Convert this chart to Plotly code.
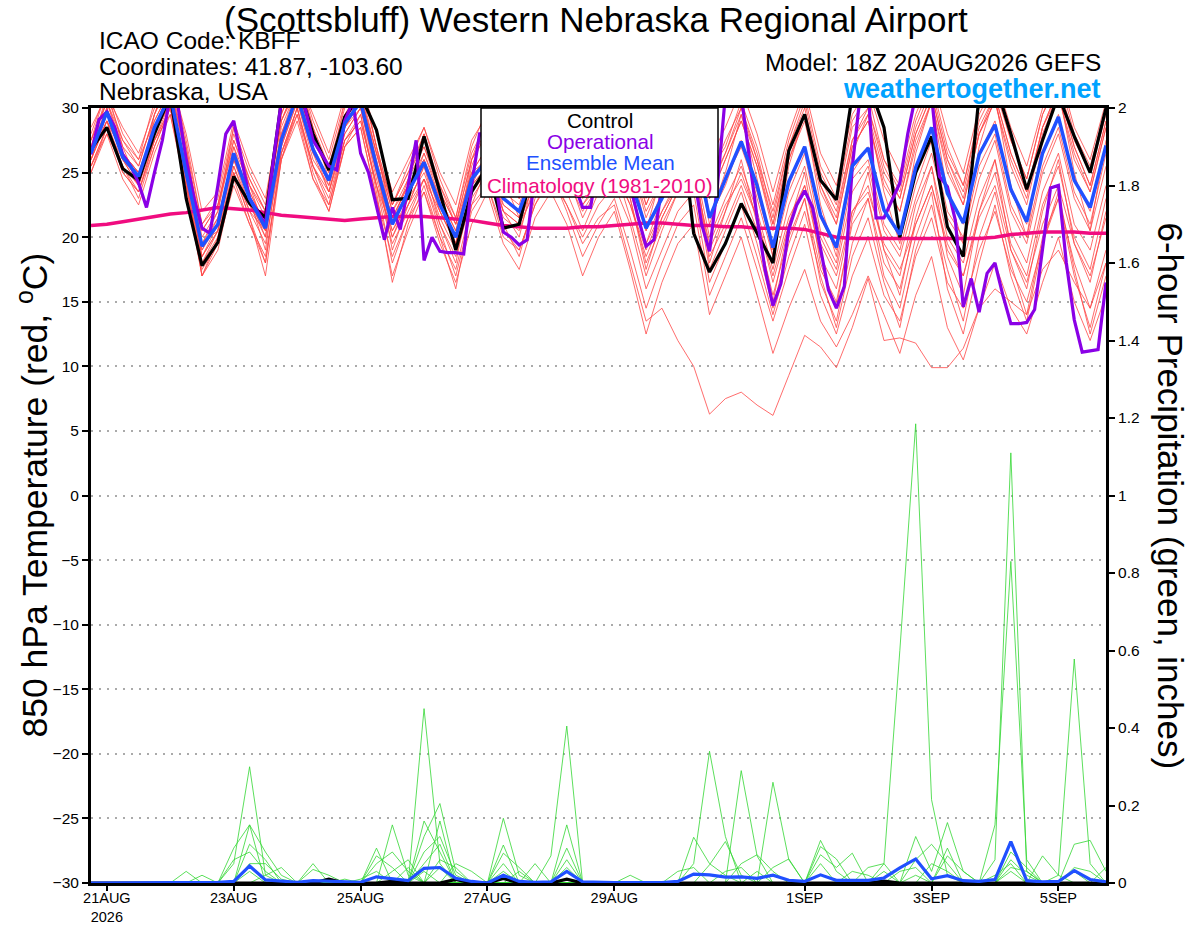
import plotly.graph_objects as go
import pandas as pd

# ---------------- DATA ----------------
start_time = "2026-08-20 18:00"
n_steps = 65          # 6-hourly GEFS steps
n_steps_op = 129      # 3-hourly operational steps

tick_dates = ["2026-08-21", "2026-08-23", "2026-08-25", "2026-08-27",
              "2026-08-29", "2026-09-01", "2026-09-03", "2026-09-05"]
tick_labels = ["21AUG<br>2026", "23AUG", "25AUG", "27AUG", "29AUG", "1SEP", "3SEP", "5SEP"]
temp_ticks = [-30, -25, -20, -15, -10, -5, 0, 5, 10, 15, 20, 25, 30]
precip_ticks = [0, 0.2, 0.4, 0.6, 0.8, 1.0, 1.2, 1.4, 1.6, 1.8, 2.0]
precip_tick_labels = ["0", "0.2", "0.4", "0.6", "0.8", "1", "1.2", "1.4", "1.6", "1.8", "2"]

# 850 hPa temperature (C)
control_t = [26.8,28.5,25.3,24.4,28.0,31.0,23.0,17.8,19.6,24.7, 22.6,21.5,30.5,32.0,28.0,25.2,29.3,31.0,28.3,22.9,
             23.0,27.8,23.5,19.0,23.5,25.5,20.7,21.0,26.0,29.0, 27.5,24.5,27.0,29.5,27.0,24.0,27.0,31.0,20.3,17.3,
             19.5,22.6,20.3,18.0,26.7,29.5,24.4,22.9,31.0,32.0, 28.5,20.0,25.0,27.8,20.8,18.5,31.0,32.0,28.0,23.7,
             27.5,31.0,27.8,25.0,30.0]
mean_t = [26.5,29.7,26.2,24.7,28.5,31.0,25.0,19.3,21.0,26.5, 23.0,20.7,27.5,31.0,26.8,24.4,28.8,30.5,25.5,21.0,
          23.5,25.8,22.5,20.0,24.5,26.0,23.0,22.0,25.5,27.5, 26.0,24.0,25.5,27.0,24.5,20.7,23.0,25.5,27.4,21.5,
          24.5,27.4,24.0,19.2,24.3,27.0,21.7,19.2,25.5,26.9, 22.1,20.2,25.4,28.5,23.4,21.1,26.4,28.7,23.7,21.2,
          26.5,29.3,24.4,22.3,27.1]
climo_t = [20.9,21.0,21.2,21.4,21.6,21.8,21.9,22.1,22.3,22.2, 22.1,21.9,21.7,21.6,21.5,21.4,21.3,21.4,21.5,21.6,
           21.6,21.6,21.5,21.4,21.3,21.1,20.9,20.8,20.7,20.7, 20.7,20.8,20.8,20.9,21.0,21.1,21.1,21.0,20.9,20.9,
           20.8,20.8,20.7,20.7,20.7,20.6,20.3,20.0,19.9,19.9, 19.9,19.9,19.9,19.9,19.9,19.9,19.9,20.0,20.2,20.3,
           20.4,20.4,20.4,20.3,20.3]
operational_t = [26.4,29.1,29.7,28.5,26.4,25.5,24.2,22.3,25.0,27.5, 31.0,30.0,26.0,23.0,20.7,20.3,24.0,28.0,29.0,26.0,
                 23.0,22.0,21.0,26.0,30.5,32.0,32.0,30.0,27.5,26.5, 25.5,25.2,29.0,30.5,26.5,25.0,22.5,19.8,22.3,20.6,
                 24.0,27.5,18.2,20.0,18.9,18.8,18.8,18.7,24.0,28.0, 28.0,24.0,20.4,20.0,19.4,19.8,25.0,29.0,30.0,28.0,
                 26.0,24.0,22.3,22.3,26.0,28.0,29.0,27.0,24.0,21.5, 19.3,19.8,24.0,28.0,31.0,29.0,25.0,21.0,18.9,24.0,
                 31.0,32.0,31.0,26.0,21.5,17.5,14.7,16.4,20.6,22.5, 23.6,22.3,19.0,15.9,14.5,16.2,25.4,31.0,31.5,21.5,
                 21.5,22.8,24.2,28.0,31.0,32.0,31.0,24.7,23.9,21.3, 14.6,16.8,14.2,17.2,18.0,15.5,13.3,13.3,13.4,14.4,
                 19.0,23.8,24.0,18.0,13.6,11.1,11.2,11.3,16.5]

t_m01 = [27.5,30.5,27.0,25.5,29.5,32.0,26.5,20.0,22.0,27.5, 24.0,21.5,29.0,32.0,28.0,25.0,29.5,31.5,26.5,22.0,
         24.5,27.0,23.5,21.0,26.0,28.0,24.5,23.0,27.0,29.5, 27.5,25.0,27.0,29.0,26.0,22.0,24.5,27.5,29.0,23.0,
         26.0,29.0,25.5,21.0,26.0,29.0,23.5,21.0,27.0,29.0, 24.0,22.0,27.0,30.5,25.0,22.5,28.0,30.5,25.5,22.5,
         28.0,31.0,26.0,23.5,28.5]
t_m02 = [25.5,28.5,25.0,23.5,27.0,30.0,24.0,18.0,20.0,25.5, 22.0,19.5,26.5,30.0,25.5,23.0,27.5,29.5,24.0,19.5,
         22.0,24.5,21.0,18.5,23.0,25.0,21.5,20.5,24.0,26.0, 24.5,22.0,24.0,25.5,22.5,18.5,21.5,24.0,25.5,19.0,
         22.0,25.0,21.5,16.5,21.0,24.0,18.5,16.0,22.0,24.0, 19.0,17.0,22.5,25.5,20.0,18.0,23.0,26.0,20.5,18.0,
         23.5,26.5,21.0,19.0,24.0]
t_m03 = [28.0,31.5,28.0,26.0,30.5,33.0,27.5,21.0,23.0,28.5, 25.0,22.5,30.5,33.0,29.0,26.0,30.5,32.5,27.0,22.5,
         25.5,28.5,24.5,21.5,27.0,30.0,26.0,24.0,28.0,31.0, 29.0,26.5,28.0,31.0,27.0,23.0,26.0,29.0,31.0,25.0,
         27.0,30.5,27.0,22.5,27.5,31.0,25.5,23.0,29.0,31.0, 26.0,24.0,29.0,32.0,27.0,24.0,29.5,32.0,27.5,24.5,
         29.5,32.5,28.0,25.5,30.0]
t_m04 = [26.0,29.0,26.5,25.0,28.0,30.5,25.0,19.0,21.5,26.0, 23.5,21.0,27.0,30.5,26.5,24.5,28.0,30.0,25.0,20.5,
         23.0,26.5,23.0,20.5,25.0,27.0,22.5,21.5,26.0,28.0, 25.5,23.0,26.5,28.0,24.0,19.5,23.0,26.0,28.0,21.5,
         24.0,27.5,23.0,18.5,23.5,26.5,20.5,18.0,24.5,26.0, 21.0,19.0,24.0,27.5,22.0,20.0,25.5,28.0,22.5,20.0,
         25.5,28.5,23.5,21.0,26.5]
t_m05 = [27.0,30.0,26.0,24.0,28.5,31.5,26.0,19.5,20.5,26.5, 23.0,20.0,28.5,31.5,27.5,25.5,29.0,31.0,26.0,21.5,
         24.0,26.0,22.0,19.5,25.5,28.5,25.0,23.5,27.5,30.0, 28.0,26.0,28.5,30.5,27.5,23.5,26.5,29.5,30.5,24.5,
         27.5,30.0,26.5,21.5,27.0,30.0,24.5,22.0,27.5,29.5, 25.0,23.0,28.0,31.0,26.0,23.5,28.5,31.0,26.5,23.5,
         28.5,31.5,27.0,24.0,29.0]
t_m06 = [26.5,29.5,26.0,24.5,28.0,30.5,25.5,18.5,20.5,26.0, 22.5,20.5,27.0,30.5,26.0,24.0,28.5,30.0,25.0,20.0,
         23.0,25.0,21.5,19.0,24.0,25.5,22.0,21.0,24.5,26.5, 25.0,22.5,24.5,26.0,23.0,18.0,21.0,23.5,25.0,18.5,
         21.0,24.0,20.5,15.5,20.0,23.0,17.5,15.0,21.0,23.0, 18.0,16.0,21.0,24.0,19.0,17.0,22.0,25.0,19.5,17.0,
         22.5,25.5,20.0,17.5,23.0]
t_m07 = [25.0,28.0,25.5,24.0,27.5,30.0,24.5,18.5,21.0,25.5, 22.5,20.0,27.5,31.0,26.5,23.5,28.0,30.0,24.5,20.0,
         22.5,25.5,22.0,19.5,24.5,26.5,23.0,22.0,25.5,27.5, 26.0,24.0,26.0,27.5,25.0,20.5,23.5,25.5,27.5,21.0,
         24.5,27.0,23.5,19.0,24.0,27.0,21.5,19.0,25.0,27.0, 22.0,20.0,25.5,28.5,23.5,21.0,26.5,29.0,23.5,21.0,
         26.5,29.5,24.5,22.0,27.0]
t_m08 = [27.5,30.5,26.5,24.5,29.0,31.5,26.5,20.5,22.5,27.0, 24.0,22.0,29.0,31.5,27.5,25.0,29.5,31.0,26.5,22.0,
         24.0,26.5,23.5,21.0,25.0,26.0,23.0,22.0,25.0,27.0, 25.5,23.5,25.5,26.5,23.5,19.5,22.0,24.5,26.0,20.0,
         23.0,25.5,22.0,17.5,22.5,25.5,20.0,17.5,23.5,25.5, 20.5,18.5,23.0,26.5,21.5,19.5,24.5,27.5,22.0,19.5,
         25.0,28.0,23.0,20.5,25.5]
t_m09 = [26.0,29.0,25.5,23.5,27.5,30.5,24.5,17.5,19.5,25.0, 21.5,18.0,26.5,30.0,25.5,22.5,27.5,29.0,24.0,18.0,
         21.5,24.5,20.5,17.0,22.0,24.0,20.0,19.0,22.5,25.0, 22.0,18.5,21.0,23.0,19.0,14.5,18.0,21.0,22.5,15.5,
         18.5,21.5,17.5,13.5,17.5,21.0,15.5,12.5,17.0,20.0, 15.5,13.5,18.5,21.5,16.5,14.5,19.0,22.0,17.5,15.0,
         19.5,23.0,18.0,14.5,19.0]
t_m10 = [28.5,31.0,28.5,26.5,30.0,32.5,28.0,22.0,23.5,29.0, 25.5,23.0,30.0,32.5,29.5,26.5,31.0,32.0,28.0,23.5,
         26.0,28.5,25.0,22.5,27.5,29.5,25.5,24.0,28.5,30.5, 28.5,26.0,29.0,31.5,28.0,24.5,27.0,30.0,32.0,26.0,
         28.5,31.5,28.0,23.5,28.0,31.5,26.5,24.0,29.5,31.5, 27.5,25.0,29.5,32.5,28.0,25.0,30.0,32.5,28.5,25.5,
         30.0,33.0,28.5,26.0,30.5]
t_m11 = [26.0,29.5,26.5,25.0,28.5,31.0,25.0,19.5,21.5,26.5, 23.5,21.0,28.0,31.5,27.0,24.5,29.0,30.5,25.5,21.0,
         23.5,26.0,22.5,20.0,24.0,25.5,22.0,21.0,23.5,25.0, 22.5,19.5,21.5,22.5,18.0,13.5,14.5,12.0,10.0,6.3,
         7.5,8.0,7.0,6.2,9.3,12.4,11.5,9.9,13.0,16.8, 12.0,12.2,11.8,9.9,9.9,11.4,14.5,16.0,15.0,14.0,
         17.5,19.0,16.5,14.5,18.0]
t_m12 = [25.5,28.5,25.5,23.0,27.0,30.0,24.0,17.0,20.0,25.0, 21.5,17.0,26.0,30.0,25.0,22.0,27.0,29.5,23.5,16.5,
         21.0,24.0,20.0,16.0,22.5,25.5,21.0,18.5,23.0,26.0, 23.5,20.5,23.5,25.5,21.5,17.0,20.5,23.5,25.0,17.5,
         20.5,23.5,19.5,14.5,19.5,23.0,16.5,13.5,19.5,23.0, 17.0,14.5,20.0,23.5,16.0,12.5,18.0,22.5,17.0,13.5,
         19.5,23.5,17.5,12.5,17.0]
t_m13 = [27.0,31.0,27.5,25.5,29.5,32.5,27.0,21.0,22.5,28.0, 24.5,22.0,29.5,32.5,28.5,25.5,30.0,32.0,27.0,22.5,
         25.0,28.0,24.0,21.5,26.5,29.0,25.0,23.0,27.5,30.5, 28.5,25.5,27.5,30.0,26.5,22.5,25.5,28.5,30.5,24.0,
         26.5,30.0,26.0,22.0,27.0,30.5,25.0,22.5,28.5,30.0, 26.0,23.5,28.5,31.5,26.5,24.0,29.0,31.5,27.5,24.5,
         29.5,32.0,27.5,25.0,29.5]
t_m14 = [26.5,30.0,26.0,24.0,28.5,31.0,25.5,18.0,20.5,27.0, 23.0,19.0,27.5,31.0,27.0,23.5,28.5,30.5,25.5,19.0,
         22.5,25.5,21.0,18.0,24.0,26.5,22.0,20.0,25.0,27.0, 25.0,21.5,24.0,26.5,23.0,17.5,21.5,24.0,26.5,18.0,
         22.0,26.0,21.0,15.0,21.0,25.0,18.0,14.5,21.5,25.0, 19.0,15.5,21.5,25.5,18.5,15.5,22.0,26.0,19.0,16.0,
         22.0,26.0,19.5,16.5,22.0]
t_m15 = [27.5,31.5,27.0,24.0,29.5,33.0,27.0,19.5,22.0,28.5, 24.0,20.5,29.5,33.0,28.5,24.5,30.5,32.5,27.0,21.0,
         24.5,28.0,23.0,19.5,26.0,29.5,24.5,21.5,27.0,30.5, 28.0,23.5,27.0,30.5,26.0,20.5,25.0,29.0,30.5,21.5,
         25.0,29.5,24.5,18.5,25.5,29.5,22.5,18.5,26.5,29.5, 23.5,19.5,26.5,30.5,23.5,19.5,27.0,31.0,24.0,20.0,
         27.5,31.5,25.0,20.5,27.5]
t_m16 = [25.0,28.5,26.0,25.0,27.5,29.5,24.0,18.5,20.5,25.0, 22.0,20.5,26.5,29.5,25.5,23.5,27.5,29.0,24.0,20.5,
         22.5,24.5,22.0,19.5,23.5,25.0,22.5,21.5,24.0,25.5, 24.5,22.5,24.0,25.0,22.5,19.0,22.0,24.0,25.0,19.5,
         22.5,24.5,21.5,17.0,21.5,24.0,19.5,17.0,22.0,23.5, 19.5,17.5,21.0,24.0,19.5,17.0,21.5,24.0,19.0,16.5,
         21.0,24.0,19.5,17.0,21.5]
t_m17 = [26.0,29.0,25.0,23.5,27.5,30.0,24.5,17.0,19.0,24.5, 21.0,18.0,26.0,29.5,24.5,22.0,27.0,28.5,23.0,17.0,
         20.5,23.5,19.5,16.5,21.0,23.5,19.5,17.5,21.5,23.5, 21.0,17.0,20.0,22.0,17.5,12.5,16.5,19.5,21.0,14.0,
         17.0,20.0,15.5,11.0,14.5,17.5,13.5,11.5,14.0,17.0, 14.0,11.0,15.5,18.5,13.0,10.5,14.5,18.0,14.5,12.5,
         16.5,20.0,15.0,12.0,15.5]
t_m18 = [26.5,29.0,26.5,25.0,28.0,30.5,25.0,19.0,21.0,26.0, 23.0,21.0,28.0,31.0,27.0,24.0,28.5,30.5,25.5,21.5,
         24.0,26.0,23.0,20.5,25.0,27.0,23.5,22.5,26.5,28.5, 27.0,24.5,27.0,29.0,26.0,21.5,24.5,27.0,29.0,23.0,
         26.0,29.0,25.5,20.5,26.0,29.5,24.0,21.0,27.0,29.0, 24.5,22.0,27.5,30.5,25.5,22.5,28.0,30.5,26.0,23.0,
         28.5,31.0,26.5,23.5,28.5]
t_m19 = [25.5,28.0,24.5,22.5,26.5,29.5,23.5,17.0,19.5,24.0, 21.0,18.5,26.0,29.0,24.5,22.5,27.0,28.5,23.0,18.5,
         21.5,23.5,20.0,17.5,22.5,24.0,20.5,19.0,22.5,24.5, 22.5,20.0,22.5,24.0,21.0,16.0,19.0,22.0,23.5,16.5,
         19.5,22.5,18.5,14.0,18.5,22.0,17.0,13.0,18.5,21.5, 16.5,13.0,19.0,22.5,17.5,13.5,20.0,23.5,18.0,14.0,
         20.0,23.0,17.0,13.0,18.0]
t_m20 = [27.0,30.5,27.5,26.0,29.0,31.5,26.5,20.5,22.5,27.5, 24.5,22.0,29.0,32.0,28.0,25.5,29.5,31.0,26.5,22.5,
         25.0,27.0,24.0,21.0,26.0,28.5,24.5,23.0,26.5,29.0, 27.0,25.0,27.5,29.5,27.0,22.5,25.5,28.0,29.5,23.5,
         26.5,29.5,26.0,21.0,26.5,29.5,24.0,21.5,27.5,30.0, 25.5,23.0,28.0,31.0,26.0,23.0,28.0,31.0,26.5,23.5,
         28.5,31.5,27.0,24.0,29.0]

# 6-hour precipitation (inches)
control_p = [0,0,0,0,0, 0,0,0,0,0, 0,0,0,0,0, 0.01,0,0,0,0.004, 0,0,0,0.009,0, 0,0.012,0,0,0, 0.01,0,0,0,0,
             0,0,0,0,0, 0,0,0,0,0, 0,0,0,0,0, 0.005,0,0,0,0, 0,0,0,0,0, 0,0,0,0,0]
mean_p = [0,0,0,0,0, 0,0,0,0.002,0.004, 0.044,0.008,0.004,0.002,0.006, 0.004,0.002,0.002,0.016,0.012,
          0.006,0.038,0.04,0.012,0.004, 0,0.02,0.004,0.002,0.003, 0.03,0.003,0.001,0.001,0.001,
          0.001,0.001,0.004,0.023,0.021, 0.015,0.016,0.012,0.02,0.007, 0.004,0.021,0.007,0.006,0.007,
          0.013,0.039,0.062,0.011,0.019, 0.006,0.004,0.009,0.107,0.006, 0.003,0.004,0.032,0.009,0.003]

p_m01 = [0,0,0,0,0, 0,0,0,0,0.05, 0.30,0.02,0,0,0, 0,0,0,0,0, 0,0.45,0.05,0,0, 0,0,0,0,0.07, 0.405,0,0,0,0,
         0,0,0,0,0, 0,0,0,0,0, 0,0,0,0.03,0.02, 0,0,0,0,0, 0,0,0,0,0, 0,0.02,0,0,0]
p_m02 = [0,0,0,0,0, 0,0,0,0,0.09, 0.15,0,0,0,0, 0,0,0,0,0, 0,0.16,0.08,0,0, 0,0,0,0,0, 0.15,0,0,0,0,
         0,0,0,0,0, 0,0,0,0,0, 0,0,0,0,0.04, 0.05,0,0,0,0, 0,0,0,0,0, 0,0,0,0,0]
p_m03 = [0,0,0,0,0, 0,0.03,0,0,0, 0.15,0.08,0.02,0,0, 0,0,0,0,0, 0,0.12,0.205,0.03,0, 0,0,0,0,0, 0.06,0,0,0,0,
         0,0,0,0,0, 0,0,0,0,0, 0,0,0,0,0, 0.03,0,0,0,0, 0,0,0,0,0, 0,0,0,0,0]
p_m04 = [0,0,0,0,0, 0,0,0,0,0, 0.10,0.06,0,0,0, 0,0.01,0,0,0, 0,0,0.16,0,0, 0,0,0,0,0, 0.09,0,0,0,0,
         0,0,0,0,0, 0,0,0,0,0, 0,0,0,0,0, 0.05,0.6,1.185,0.215,0.02, 0,0,0,0,0, 0,0,0,0,0]
p_m05 = [0,0,0,0,0, 0,0,0,0,0.06, 0.08,0.03,0,0,0, 0,0,0,0,0, 0.04,0,0,0,0, 0,0,0,0,0, 0.04,0,0,0,0,
         0,0,0,0,0, 0,0,0,0,0, 0,0,0,0,0, 0,0,0.12,0.03,0.156, 0.03,0,0,0,0, 0,0,0,0,0]
p_m06 = [0,0,0,0,0, 0,0,0,0,0, 0.05,0.05,0.01,0,0, 0,0,0,0,0, 0,0.08,0.12,0.02,0, 0,0,0,0,0, 0,0,0,0,0.02,
         0,0,0,0,0, 0,0,0,0,0, 0,0,0,0,0, 0,0,0.06,0.1,0.05, 0,0,0,0,0, 0,0,0,0,0]
p_m07 = [0,0,0,0,0, 0,0,0.02,0,0, 0.03,0,0,0,0, 0,0,0,0,0, 0,0.05,0.10,0,0, 0,0,0,0,0, 0,0,0,0,0,
         0,0,0,0.118,0.05, 0.02,0,0,0,0, 0,0,0,0,0, 0,0.03,0.04,0,0.09, 0,0,0,0,0, 0,0,0,0,0]
p_m08 = [0,0,0,0,0, 0,0,0,0,0, 0,0.02,0.04,0,0, 0,0,0,0,0, 0,0,0.06,0.04,0, 0,0,0,0,0, 0,0,0,0,0,
         0,0,0,0.05,0.34, 0.12,0,0,0,0, 0,0,0,0,0, 0,0,0.02,0,0.07, 0.03,0,0,0,0, 0,0,0,0,0]
p_m09 = [0,0,0,0,0, 0,0,0,0,0, 0,0,0,0,0.05, 0,0,0,0,0, 0,0.03,0,0,0, 0,0,0,0,0, 0,0,0,0,0,
         0,0,0,0,0.047, 0.107,0.02,0,0,0, 0,0,0,0,0, 0,0,0,0.05,0.03, 0,0,0,0,0, 0,0,0,0,0]
p_m10 = [0,0,0,0,0, 0,0,0,0,0, 0,0,0,0,0.035, 0.02,0,0,0,0, 0,0,0,0.05,0.03, 0,0,0,0,0, 0,0,0,0,0,
         0,0,0,0,0, 0,0.29,0.07,0,0, 0,0,0,0,0, 0,0,0,0,0, 0,0,0.06,1.11,0.03, 0,0,0,0,0]
p_m11 = [0,0,0,0,0, 0,0,0,0,0, 0,0,0,0,0, 0,0,0,0,0.15, 0.02,0,0,0,0, 0,0.167,0.02,0,0, 0,0,0,0,0,
         0,0,0,0,0, 0,0.05,0.073,0.03,0, 0,0,0,0,0, 0,0,0,0,0, 0,0,0.15,0.83,0.06, 0,0,0,0,0]
p_m12 = [0,0,0,0,0, 0,0,0,0,0, 0,0,0,0,0, 0,0,0,0.07,0.04, 0,0,0,0,0, 0,0.098,0,0,0, 0,0,0,0,0,
         0,0,0,0,0, 0,0,0,0.26,0.06, 0,0,0,0,0, 0,0,0,0,0, 0,0,0,0.08,0.04, 0,0,0,0,0]
p_m13 = [0,0,0,0,0, 0,0,0,0,0, 0,0,0,0,0, 0,0,0,0.05,0.08, 0.03,0,0,0,0, 0,0.077,0.04,0,0, 0,0,0,0,0,
         0,0,0,0,0, 0,0,0,0.04,0.062, 0,0,0,0,0, 0,0,0,0,0, 0,0,0,0.06,0.02, 0,0,0,0,0]
p_m14 = [0,0,0,0,0, 0,0,0,0,0, 0,0,0,0,0, 0,0,0,0.09,0, 0,0,0,0,0, 0,0.05,0,0.05,0, 0,0,0,0,0,
         0,0,0.03,0.04,0, 0,0,0,0,0, 0,0,0,0,0, 0,0,0,0,0, 0,0,0.02,0.05,0, 0,0,0,0,0]
p_m15 = [0,0,0,0,0, 0,0,0,0,0, 0,0,0,0,0, 0,0,0,0,0.03, 0.06,0,0,0,0, 0,0.03,0,0,0, 0,0,0,0,0,
         0,0,0,0,0, 0.03,0.04,0,0,0, 0,0,0,0,0, 0,0,0,0,0, 0,0,0,0.04,0.03, 0,0,0,0,0]
p_m16 = [0,0,0,0,0, 0,0,0,0,0, 0,0,0,0,0, 0,0,0.01,0.03,0, 0,0,0,0,0, 0,0,0,0,0, 0,0,0,0,0,
         0,0,0,0,0, 0,0,0.03,0,0, 0,0,0,0,0, 0,0,0,0,0, 0,0,0,0.03,0, 0,0,0,0,0]
p_m17 = [0,0,0,0,0, 0,0,0,0,0, 0,0,0,0,0, 0,0,0,0,0, 0,0,0.04,0,0, 0,0,0,0,0, 0,0,0,0,0,
         0,0,0,0,0, 0,0,0,0,0, 0,0.11,0.03,0,0, 0,0,0,0,0, 0,0,0,0,0, 0.07,0.02,0.578,0.05,0]
p_m18 = [0,0,0,0,0, 0,0,0,0,0, 0,0,0,0,0, 0,0,0,0,0, 0,0,0,0,0, 0,0,0.03,0,0, 0,0,0,0,0,
         0,0,0,0,0, 0,0,0,0,0, 0,0.094,0.062,0,0, 0,0,0,0,0, 0,0,0,0,0, 0,0,0.1,0.11,0.03]
p_m19 = [0,0,0,0,0, 0,0,0,0,0, 0,0,0,0,0, 0,0,0,0,0, 0,0,0,0,0, 0,0,0,0,0, 0,0,0,0,0,
         0,0,0,0,0, 0,0,0,0,0, 0,0.073,0.04,0.077,0, 0,0,0,0,0, 0,0,0,0,0, 0,0,0.04,0.03,0]
p_m20 = [0,0,0,0,0, 0,0,0,0,0, 0,0,0,0,0, 0,0,0,0,0, 0,0,0,0,0, 0,0,0,0,0, 0,0,0,0,0,
         0,0,0,0,0, 0,0,0,0,0, 0,0.05,0,0,0, 0,0,0,0,0, 0,0,0,0,0, 0,0,0.03,0,0.04]

temp_members = [t_m01, t_m02, t_m03, t_m04, t_m05, t_m06, t_m07, t_m08, t_m09, t_m10,
                t_m11, t_m12, t_m13, t_m14, t_m15, t_m16, t_m17, t_m18, t_m19, t_m20]
precip_members = [p_m01, p_m02, p_m03, p_m04, p_m05, p_m06, p_m07, p_m08, p_m09, p_m10,
                  p_m11, p_m12, p_m13, p_m14, p_m15, p_m16, p_m17, p_m18, p_m19, p_m20]

# ---------------- STYLE ----------------
RED = "rgb(255,70,70)"
GREEN = "rgb(50,215,50)"
BLACK = "#000000"
PURPLE = "#8a00e6"
BLUE = "#2050ff"
PINK = "#f00c80"
FONT = "Liberation Sans, Arial, Helvetica, sans-serif"

times = pd.date_range(start_time, periods=n_steps, freq="6h")
times_op = pd.date_range(start_time, periods=n_steps_op, freq="3h")

fig = go.Figure()

for m in temp_members:
    fig.add_trace(go.Scatter(x=times, y=m, mode="lines", line=dict(color=RED, width=0.8),
                             yaxis="y", showlegend=False, hoverinfo="skip"))
fig.add_trace(go.Scatter(x=times, y=climo_t, mode="lines", line=dict(color=PINK, width=3.5),
                         yaxis="y", showlegend=False))
fig.add_trace(go.Scatter(x=times, y=control_t, mode="lines", line=dict(color=BLACK, width=3.2),
                         yaxis="y", showlegend=False))
fig.add_trace(go.Scatter(x=times_op, y=operational_t, mode="lines", line=dict(color=PURPLE, width=3.2),
                         yaxis="y", showlegend=False))
fig.add_trace(go.Scatter(x=times, y=mean_t, mode="lines", line=dict(color=BLUE, width=3.5),
                         yaxis="y", showlegend=False))

for m in precip_members:
    fig.add_trace(go.Scatter(x=times, y=m, mode="lines", line=dict(color=GREEN, width=0.8),
                             yaxis="y2", showlegend=False, hoverinfo="skip"))
fig.add_trace(go.Scatter(x=times, y=control_p, mode="lines", line=dict(color=BLACK, width=3.2),
                         yaxis="y2", showlegend=False))
fig.add_trace(go.Scatter(x=times, y=mean_p, mode="lines", line=dict(color=BLUE, width=3.2),
                         yaxis="y2", showlegend=False))

L, R, T, B = 91, 94, 108, 44
W, H = 1200, 927
pw, ph = W - L - R, H - T - B


def px(xp):
    return (xp - L) / pw


def py(yp):
    return 1 - (yp - T) / ph


annotations = [
    dict(text="(Scottsbluff) Western Nebraska Regional Airport", x=px(596), y=py(19),
         xanchor="center", yanchor="middle", font=dict(size=35, color="black")),
    dict(text="ICAO Code: KBFF", x=px(97), y=py(40), xanchor="left", yanchor="middle",
         font=dict(size=24.5, color="black")),
    dict(text="Coordinates: 41.87, -103.60", x=px(97), y=py(66), xanchor="left", yanchor="middle",
         font=dict(size=24.5, color="black")),
    dict(text="Nebraska, USA", x=px(97), y=py(92), xanchor="left", yanchor="middle",
         font=dict(size=24.5, color="black")),
    dict(text="Model: 18Z 20AUG2026 GEFS", x=px(1103), y=py(63), xanchor="right", yanchor="middle",
         font=dict(size=24.4, color="black")),
    dict(text="<b>weathertogether.net</b>", x=px(1103), y=py(89), xanchor="right", yanchor="middle",
         font=dict(size=27, color="#00a2ff")),
    dict(text="850 hPa Temperature (red, <sup>o</sup>C)", x=px(33), y=0.5, textangle=-90,
         xanchor="center", yanchor="middle", font=dict(size=35.5, color="black")),
    dict(text="6-hour Precipitation (green, inches)", x=px(1170), y=0.5, textangle=90,
         xanchor="center", yanchor="middle", font=dict(size=35, color="black")),
    dict(text="Control", x=px(600), y=py(121), xanchor="center", yanchor="middle",
         font=dict(size=20.6, color=BLACK)),
    dict(text="Operational", x=px(600), y=py(142), xanchor="center", yanchor="middle",
         font=dict(size=20.6, color=PURPLE)),
    dict(text="Ensemble Mean", x=px(600), y=py(163), xanchor="center", yanchor="middle",
         font=dict(size=20.6, color=BLUE)),
    dict(text="Climatology (1981-2010)", x=px(600), y=py(185), xanchor="center", yanchor="middle",
         font=dict(size=20.6, color=PINK)),
]
for a in annotations:
    a.update(xref="paper", yref="paper", showarrow=False)

shapes = [dict(type="rect", xref="paper", yref="paper", x0=px(481), x1=px(718), y0=py(197), y1=py(108),
               fillcolor="white", line=dict(color="black", width=1.5), layer="above")]

fig.update_layout(
    width=W, height=H,
    autosize=False,
    margin=dict(l=L, r=R, t=T, b=B, autoexpand=False),
    paper_bgcolor="white", plot_bgcolor="white",
    font=dict(family=FONT, color="black", size=15),
    showlegend=False,
    annotations=annotations,
    shapes=shapes,
    xaxis=dict(range=[times[0], times[-1]], tickvals=tick_dates, ticktext=tick_labels,
               automargin=False, ticklabelstandoff=-5,
               showgrid=False, zeroline=False, showline=True, linewidth=3, linecolor="black",
               mirror=True, ticks="outside", ticklen=5, tickwidth=1.5, tickcolor="black",
               tickfont=dict(size=14.5)),
    yaxis=dict(range=[-30, 30], tickvals=temp_ticks, showgrid=True, gridcolor="#aaaaaa",
               automargin=False,
               griddash="2px,6px", gridwidth=1.5, zeroline=False, showline=True, linewidth=3,
               linecolor="black", ticks="outside", ticklen=6, tickwidth=1.5, tickcolor="black",
               tickfont=dict(size=15.5)),
    yaxis2=dict(range=[0, 2], tickvals=precip_ticks, ticktext=precip_tick_labels,
                automargin=False,
                overlaying="y", side="right", showgrid=False, zeroline=False, showline=True,
                linewidth=3, linecolor="black", ticks="outside", ticklen=6, tickwidth=1.5,
                tickcolor="black", tickfont=dict(size=15.5)),
)

fig.write_html("out.html", config={"displayModeBar": False},
               post_script="document.body.style.margin='0';document.body.style.overflow='hidden';")
